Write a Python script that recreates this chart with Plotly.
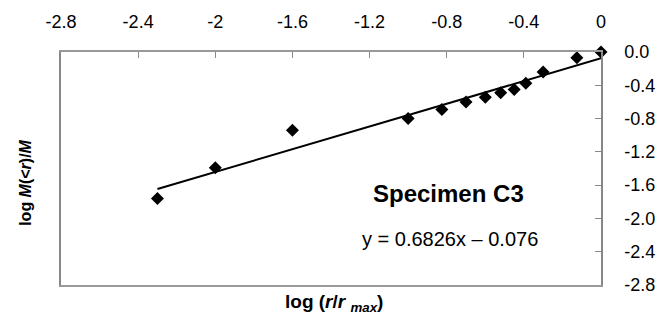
import plotly.graph_objects as go

# Data
log_r = [-2.30, -2.00, -1.60, -1.00, -0.825, -0.70, -0.60, -0.52, -0.45, -0.39, -0.30, -0.125, 0.0]
log_m = [-1.76, -1.39, -0.94, -0.80, -0.69, -0.60, -0.545, -0.49, -0.45, -0.375, -0.24, -0.07, 0.0]

# fitted trend line end points (y = 0.6826x - 0.076)
trend_x = [-2.30, 0.0]
trend_y = [-1.646, -0.076]

x_ticks = [-2.8, -2.4, -2.0, -1.6, -1.2, -0.8, -0.4, 0.0]
x_labels = ["-2.8", "-2.4", "-2", "-1.6", "-1.2", "-0.8", "-0.4", "0"]
y_ticks = [0.0, -0.4, -0.8, -1.2, -1.6, -2.0, -2.4, -2.8]
y_labels = ["0.0", "-0.4", "-0.8", "-1.2", "-1.6", "-2.0", "-2.4", "-2.8"]

specimen = "Specimen C3"
equation = "y = 0.6826x \u2013 0.076"

FONT = "Liberation Sans, Arial, sans-serif"

fig = go.Figure()
fig.add_trace(go.Scatter(x=trend_x, y=trend_y, mode="lines",
                         line=dict(color="black", width=2), showlegend=False))
fig.add_trace(go.Scatter(x=log_r, y=log_m, mode="markers",
                         marker=dict(symbol="diamond", size=10, color="black"),
                         showlegend=False, cliponaxis=False))

fig.update_layout(
    width=667, height=327,
    margin=dict(l=61, r=53, t=52, b=42),
    paper_bgcolor="white", plot_bgcolor="white",
    font=dict(family=FONT, size=18, color="black"),
    xaxis=dict(side="top", range=[-2.8, 0], tickvals=x_ticks, ticktext=x_labels,
               ticks="inside", ticklen=6, tickcolor="#888", tickwidth=1,
               showline=True, linecolor="#999", linewidth=1.5, mirror=True,
               showgrid=False, zeroline=False, ticklabelstandoff=15,
               tickfont=dict(size=18)),
    yaxis=dict(side="right", range=[-2.8, 0], tickvals=y_ticks, ticktext=y_labels,
               ticks="inside", ticklen=6, tickcolor="#888", tickwidth=1,
               showline=True, linecolor="#888", linewidth=1.5, mirror=True,
               showgrid=False, zeroline=False, ticklabelstandoff=18,
               tickfont=dict(size=18)),
    annotations=[
        dict(text="<b>log (<i>r</i>/<i>r</i> <sub><i>max</i></sub>)</b>", xref="paper", yref="paper",
             x=0.505, y=-0.077, xanchor="center", yanchor="middle", showarrow=False,
             font=dict(size=19)),
        dict(text="<b>log <i>M</i>(<<i>r</i>)/<i>M</i></b>", xref="paper", yref="paper",
             x=-0.066, y=0.44, xanchor="center", yanchor="middle", textangle=-90,
             showarrow=False, font=dict(size=16)),
        dict(text="<b>" + specimen + "</b>", xref="x", yref="y",
             x=-1.195, y=-1.695, xanchor="left", yanchor="middle", showarrow=False,
             font=dict(size=24)),
        dict(text=equation, xref="x", yref="y",
             x=-1.25, y=-2.245, xanchor="left", yanchor="middle", showarrow=False,
             font=dict(size=20)),
    ],
)

fig.write_html("out.html")
